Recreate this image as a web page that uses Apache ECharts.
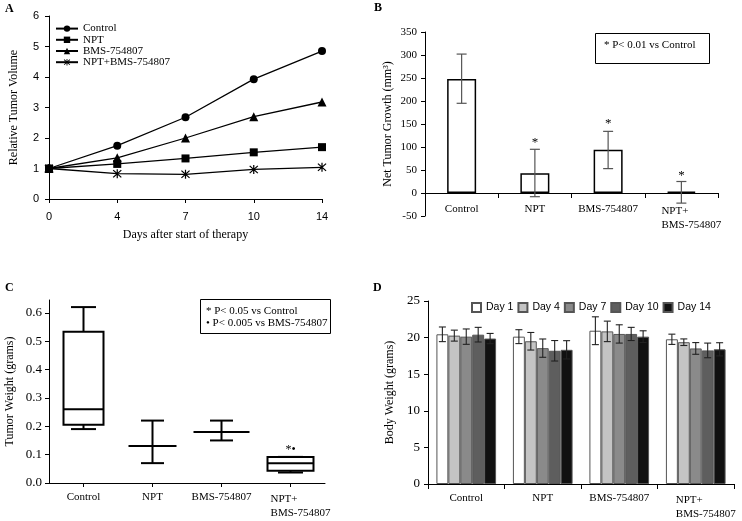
<!DOCTYPE html>
<html>
<head>
<meta charset="utf-8">
<script src="https://cdn.jsdelivr.net/npm/echarts@6/dist/echarts.min.js"></script>
<style>html,body{margin:0;padding:0;background:#fff}#c{width:742px;height:521px}</style>
</head>
<body>
<div id="c"></div>
<script>
// ---------- Panel A data ----------
var daysA = ['0', '4', '7', '10', '14'];
var aControl = [1, 1.75, 2.68, 3.93, 4.85];
var aNPT = [1, 1.15, 1.33, 1.53, 1.70];
var aBMS = [1, 1.35, 2.00, 2.70, 3.18];
var aCombo = [1, 0.83, 0.81, 0.97, 1.04];
var yTicksA = [0, 1, 2, 3, 4, 5, 6];

// ---------- Panel B data ----------
var groups = ['Control', 'NPT', 'BMS-754807', 'NPT+\nBMS-754807'];
var bMean = [248, 43, 94, 3];
var bLow = [195, -8, 53, -22];
var bHigh = [302, 95, 134, 25];
var bStarY = [null, 110, 150, 38];

// ---------- Panel C data (min, q1, median, q3, max) ----------
var cMin = [0.19, 0.07, 0.15, 0.037];
var cQ1 = [0.205, 0.13, 0.18, 0.043];
var cMed = [0.26, 0.13, 0.18, 0.07];
var cQ3 = [0.533, 0.13, 0.18, 0.092];
var cMax = [0.62, 0.22, 0.22, 0.092];
var cStarY = [null, null, null, 0.118];
var yTicksC = [0, 0.1, 0.2, 0.3, 0.4, 0.5, 0.6];

// ---------- Panel D data ----------
var dayNames = ['Day 1', 'Day 4', 'Day 7', 'Day 10', 'Day 14'];
var dMean = [
  [20.45, 20.13, 20.94, 19.77],
  [20.27, 19.50, 20.85, 19.37],
  [20.13, 18.56, 20.50, 18.52],
  [20.40, 18.20, 20.50, 18.25],
  [19.87, 18.33, 20.13, 18.40]
];
var dErr = [
  [1.0, 0.95, 1.9, 0.7],
  [0.75, 1.2, 1.4, 0.45],
  [1.05, 1.25, 1.25, 0.8],
  [1.0, 1.4, 0.9, 1.0],
  [0.7, 1.25, 0.8, 0.9]
];

// ---------- styles ----------
var SERIF = '"Liberation Serif", "Times New Roman", serif';
var SANS = '"Liberation Sans", Arial, sans-serif';
var dayColors = ['#ffffff', '#c4c4c4', '#8a8a8a', '#5e5e5e', '#111111'];
var boxWidths = [40, 48, 56, 46];
var capWidths = [25, 23, 23, 25];
var D_GAP = 0.22;
var asterisk = 'path://M8.8 0L11.2 0L11.2 20L8.8 20Z M2.85 1.15L18.85 17.15L17.15 18.85L1.15 2.85Z M18.85 2.85L2.85 18.85L1.15 17.15L17.15 1.15Z';

var black = '#000';
function axisBase(extra) {
  var o = {
    axisLine: {show: true, onZero: true, lineStyle: {color: black, width: 1}},
    axisTick: {show: true, length: 4, lineStyle: {color: black}},
    splitLine: {show: false}
  };
  for (var k in extra) o[k] = extra[k];
  return o;
}
function catLabel(size, margin) {
  return {
    color: black, fontFamily: SERIF, fontSize: size, margin: margin, interval: 0,
    formatter: function (v) {
      if (v.indexOf('\n') >= 0) {
        var p = v.split('\n');
        return '{l|' + p[0] + '}\n{l|' + p[1] + '}';
      }
      return v;
    },
    rich: {l: {align: 'left', fontFamily: SERIF, fontSize: size, color: black, padding: [0, 0, 0, 20], lineHeight: 14}}
  };
}

var chart = echarts.init(document.getElementById('c'), null, {renderer: 'canvas'});

var series = [];
// Panel A lines
var aSeries = [
  {name: 'Control', data: aControl, symbol: 'circle', symbolSize: 8},
  {name: 'NPT', data: aNPT, symbol: 'rect', symbolSize: 8},
  {name: 'BMS-754807', data: aBMS, symbol: 'triangle', symbolSize: 9},
  {name: 'NPT+BMS-754807', data: aCombo, symbol: asterisk, symbolSize: 9}
];
aSeries.forEach(function (s) {
  series.push({
    type: 'line', name: s.name, xAxisIndex: 0, yAxisIndex: 0, data: s.data,
    symbol: s.symbol, symbolSize: s.symbolSize, showAllSymbol: true,
    itemStyle: {color: black}, lineStyle: {color: black, width: 1.3},
    emphasis: {disabled: true}, animation: false
  });
});

// Panel B bars
series.push({
  type: 'bar', xAxisIndex: 1, yAxisIndex: 1, data: bMean, barWidth: 29,
  itemStyle: {color: '#fff', borderColor: black, borderWidth: 1.5}, animation: false
});
function errRender(capW, color, lw) {
  return function (params, api) {
    var c = api.value(0);
    var lo = api.coord([c, api.value(1)]);
    var hi = api.coord([c, api.value(2)]);
    var x = lo[0];
    var st = {stroke: color, lineWidth: lw};
    return {type: 'group', children: [
      {type: 'line', shape: {x1: x, y1: lo[1], x2: x, y2: hi[1]}, style: st},
      {type: 'line', shape: {x1: x - capW / 2, y1: lo[1], x2: x + capW / 2, y2: lo[1]}, style: st},
      {type: 'line', shape: {x1: x - capW / 2, y1: hi[1], x2: x + capW / 2, y2: hi[1]}, style: st}
    ]};
  };
}
series.push({
  type: 'custom', xAxisIndex: 1, yAxisIndex: 1,
  data: groups.map(function (g, i) { return [i, bLow[i], bHigh[i]]; }),
  encode: {x: 0, y: [1, 2]}, renderItem: errRender(10, '#555', 1.2), animation: false, z: 5
});
function starRender(txt, size) {
  return function (params, api) {
    var p = api.coord([api.value(0), api.value(1)]);
    return {type: 'text', x: p[0], y: p[1], style: {text: txt, fill: black, font: size + 'px ' + SERIF, textAlign: 'center', textVerticalAlign: 'middle'}};
  };
}
series.push({
  type: 'custom', xAxisIndex: 1, yAxisIndex: 1,
  data: bStarY.map(function (v, i) { return v == null ? null : [i, v]; }).filter(function (d) { return d; }),
  encode: {x: 0, y: 1}, renderItem: starRender('*', 13), animation: false
});

// Panel C box plots
series.push({
  type: 'custom', xAxisIndex: 2, yAxisIndex: 2,
  data: groups.map(function (g, i) { return [i, cMin[i], cQ1[i], cMed[i], cQ3[i], cMax[i]]; }),
  encode: {x: 0, y: [1, 5]},
  renderItem: function (params, api) {
    var c = api.value(0);
    var i = params.dataIndex;
    var x = api.coord([c, 0])[0];
    var yMin = api.coord([c, api.value(1)])[1];
    var yQ1 = api.coord([c, api.value(2)])[1];
    var yMed = api.coord([c, api.value(3)])[1];
    var yQ3 = api.coord([c, api.value(4)])[1];
    var yMax = api.coord([c, api.value(5)])[1];
    var bw = boxWidths[i], cw = capWidths[i];
    var st = {stroke: black, lineWidth: 2, fill: null};
    var ch = [];
    if (yQ1 - yQ3 > 0.5) {
      ch.push({type: 'rect', shape: {x: x - bw / 2, y: yQ3, width: bw, height: yQ1 - yQ3}, style: {stroke: black, lineWidth: 2, fill: 'none'}});
    }
    ch.push({type: 'line', shape: {x1: x - bw / 2, y1: yMed, x2: x + bw / 2, y2: yMed}, style: st});
    ch.push({type: 'line', shape: {x1: x, y1: yQ3, x2: x, y2: yMax}, style: st});
    ch.push({type: 'line', shape: {x1: x, y1: yQ1, x2: x, y2: yMin}, style: st});
    ch.push({type: 'line', shape: {x1: x - cw / 2, y1: yMax, x2: x + cw / 2, y2: yMax}, style: st});
    ch.push({type: 'line', shape: {x1: x - cw / 2, y1: yMin, x2: x + cw / 2, y2: yMin}, style: st});
    return {type: 'group', children: ch};
  },
  animation: false
});
series.push({
  type: 'custom', xAxisIndex: 2, yAxisIndex: 2,
  data: cStarY.map(function (v, i) { return v == null ? null : [i, v]; }).filter(function (d) { return d; }),
  encode: {x: 0, y: 1}, renderItem: starRender('*\u2022', 12), animation: false
});

// Panel D grouped bars
dayNames.forEach(function (d, k) {
  series.push({
    type: 'bar', name: d, xAxisIndex: 3, yAxisIndex: 3, data: dMean[k],
    barGap: 0, barCategoryGap: (D_GAP * 100) + '%',
    itemStyle: {color: dayColors[k], borderColor: '#555', borderWidth: 1}, animation: false
  });
});
var dErrData = [];
dayNames.forEach(function (d, k) {
  groups.forEach(function (g, i) {
    dErrData.push([i, k, dMean[k][i] - dErr[k][i], dMean[k][i] + dErr[k][i]]);
  });
});
series.push({
  type: 'custom', xAxisIndex: 3, yAxisIndex: 3, data: dErrData,
  encode: {x: 0, y: [2, 3]},
  renderItem: function (params, api) {
    var c = api.value(0), k = api.value(1);
    var center = api.coord([c, 0])[0];
    var band = api.size([1, 0])[0];
    var gw = band * (1 - D_GAP);
    var bw = gw / dayNames.length;
    var x = center - gw / 2 + (k + 0.5) * bw;
    var lo = api.coord([c, api.value(2)])[1];
    var hi = api.coord([c, api.value(3)])[1];
    var st = {stroke: '#222', lineWidth: 1.1};
    var cw = 7;
    return {type: 'group', children: [
      {type: 'line', shape: {x1: x, y1: lo, x2: x, y2: hi}, style: st},
      {type: 'line', shape: {x1: x - cw / 2, y1: lo, x2: x + cw / 2, y2: lo}, style: st},
      {type: 'line', shape: {x1: x - cw / 2, y1: hi, x2: x + cw / 2, y2: hi}, style: st}
    ]};
  },
  z: 5, animation: false
});

var nameStyle = {color: black, fontFamily: SERIF, fontSize: 12};

var option = {
  backgroundColor: '#fff',
  animation: false,
  grid: [
    {left: 49, top: 16, width: 273, height: 183},
    {left: 425, top: 32, width: 293, height: 184},
    {left: 49, top: 300, width: 276, height: 183},
    {left: 428, top: 301, width: 306, height: 183}
  ],
  legend: [
    {
      orient: 'vertical', left: 50, top: 18, itemWidth: 22, itemHeight: 8, itemGap: 0,
      data: aSeries.map(function (s) { return s.name; }),
      textStyle: {color: black, fontFamily: SERIF, fontSize: 11, lineHeight: 11.2},
      selectedMode: false
    },
    {
      orient: 'horizontal', left: 466, top: 297, itemWidth: 9, itemHeight: 9, itemGap: 4,
      icon: 'rect', data: dayNames,
      textStyle: {color: black, fontFamily: SANS, fontSize: 10.5},
      selectedMode: false
    }
  ],
  xAxis: [
    axisBase({type: 'category', gridIndex: 0, data: daysA, boundaryGap: false,
      axisLabel: {color: black, fontFamily: SANS, fontSize: 11, margin: 12},
      name: 'Days after start of therapy', nameLocation: 'middle', nameGap: 30, nameTextStyle: nameStyle}),
    axisBase({type: 'category', gridIndex: 1, data: groups,
      axisTick: {show: true, length: 5, lineStyle: {color: black}},
      axisLabel: catLabel(11, -12)}),
    axisBase({type: 'category', gridIndex: 2, data: groups,
      axisTick: {show: true, length: 4, alignWithLabel: true, lineStyle: {color: black}},
      axisLabel: catLabel(11, 9)}),
    axisBase({type: 'category', gridIndex: 3, data: groups,
      axisTick: {show: true, length: 5, lineStyle: {color: black}},
      axisLabel: catLabel(11, 9)})
  ],
  yAxis: [
    axisBase({type: 'value', gridIndex: 0, min: 0, max: 6, interval: 1,
      axisLabel: {color: black, fontFamily: SANS, fontSize: 11, margin: 10},
      name: 'Relative Tumor Volume', nameLocation: 'middle', nameGap: 29, nameTextStyle: nameStyle}),
    axisBase({type: 'value', gridIndex: 1, min: -50, max: 350, interval: 50,
      axisLabel: {color: black, fontFamily: SERIF, fontSize: 11, margin: 8},
      name: 'Net Tumor Growth (mm\u00b3)', nameLocation: 'middle', nameGap: 31, nameTextStyle: nameStyle}),
    axisBase({type: 'value', gridIndex: 2, min: 0, max: 0.645,
      axisTick: {show: true, length: 4, customValues: yTicksC, lineStyle: {color: black}},
      axisLabel: {color: black, fontFamily: SERIF, fontSize: 13, margin: 7, customValues: yTicksC,
        formatter: function (v) { return v.toFixed(1); }},
      name: 'Tumor Weight (grams)', nameLocation: 'middle', nameGap: 33, nameTextStyle: nameStyle}),
    axisBase({type: 'value', gridIndex: 3, min: 0, max: 25, interval: 5,
      axisLabel: {color: black, fontFamily: SERIF, fontSize: 13, margin: 8},
      name: 'Body Weight (grams)', nameLocation: 'middle', nameGap: 32, nameTextStyle: nameStyle})
  ],
  graphic: [
    {type: 'text', left: 5, top: 3, style: {text: 'A', font: 'bold 12px ' + SERIF, fill: black}},
    {type: 'text', left: 374, top: 2, style: {text: 'B', font: 'bold 12px ' + SERIF, fill: black}},
    {type: 'text', left: 5, top: 282, style: {text: 'C', font: 'bold 12px ' + SERIF, fill: black}},
    {type: 'text', left: 373, top: 282, style: {text: 'D', font: 'bold 12px ' + SERIF, fill: black}},
    {type: 'rect', shape: {x: 595.5, y: 33.5, width: 114, height: 30}, style: {fill: '#fff', stroke: black, lineWidth: 1}, z: 10},
    {type: 'text', x: 604, y: 45, style: {text: '* P< 0.01 vs Control', font: '11px ' + SERIF, fill: black, textVerticalAlign: 'middle'}, z: 11},
    {type: 'rect', shape: {x: 200.5, y: 299.5, width: 130, height: 34}, style: {fill: '#fff', stroke: black, lineWidth: 1}, z: 10},
    {type: 'text', x: 206, y: 311, style: {text: '* P< 0.05 vs Control', font: '11px ' + SERIF, fill: black, textVerticalAlign: 'middle'}, z: 11},
    {type: 'text', x: 206, y: 323, style: {text: '\u2022 P< 0.005 vs BMS-754807', font: '11px ' + SERIF, fill: black, textVerticalAlign: 'middle'}, z: 11}
  ],
  series: series
};
chart.setOption(option);
</script>
</body>
</html>
